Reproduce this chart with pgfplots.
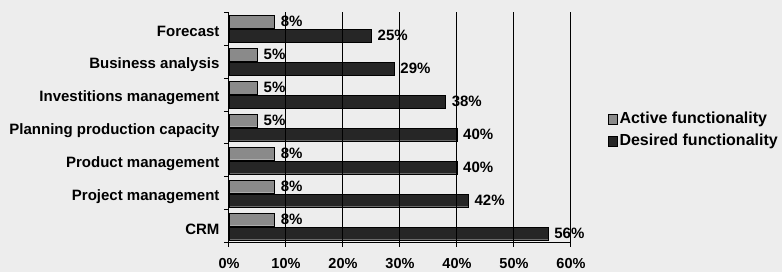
\documentclass[border=0pt]{standalone}
\usepackage{pgfplots}
\pgfplotsset{compat=1.18}
\usepackage{fontspec}
\setmainfont{Liberation Sans}
\definecolor{bg}{HTML}{EDEDED}
\definecolor{activec}{HTML}{8A8A8A}
\definecolor{desiredc}{HTML}{262626}
\begin{document}
\begin{tikzpicture}[font=\fontsize{15pt}{18pt}\selectfont\bfseries]
\fill[bg] (-229pt,-29pt) rectangle (553pt,243pt);
\path[use as bounding box] (-229pt,-29pt) rectangle (553pt,243pt);
\begin{axis}[
  at={(0pt,0pt)}, anchor=south west,
  xbar, width=342pt, height=231pt, scale only axis,
  xmin=0, xmax=60, ymin=-0.5, ymax=6.5,
  axis x line*=bottom, axis y line*=left,
  axis line style={black, line width=1pt},
  axis on top,
  xtick={0,10,...,60},
  xticklabel={\pgfmathprintnumber{\tick}\%},
  xmajorgrids, grid style={black, line width=1pt},
  ytick={0,...,6},
  yticklabels={CRM, Project management, Product management, Planning production capacity, Investitions management, Business analysis, Forecast},
  major y tick style={draw=none},
  minor ytick={-0.5,0.5,...,6.5},
  minor tick length=5pt, major tick length=8pt,
  ytick align=outside,
  xtick align=center,
  tick style={black, line width=1pt},
  /pgf/number format/assume math mode=true,
  xticklabel style={font=\fontsize{14.5pt}{18pt}\selectfont\bfseries, yshift=-8pt},
  yticklabel style={font=\fontsize{15pt}{18pt}\selectfont\bfseries, xshift=2pt, yshift=-3pt},
  bar width=12.5pt,
  nodes near coords={\pgfmathprintnumber{\pgfplotspointmeta}\%},
  nodes near coords style={font=\fontsize{15pt}{18pt}\selectfont\bfseries, inner sep=0pt, xshift=6pt},
  legend style={at={(1.108,0.49)}, anchor=west, draw=none, fill=none, inner sep=0pt,
    font=\fontsize{16pt}{19pt}\selectfont\bfseries, row sep=5pt,
    /tikz/every even column/.append style={column sep=0pt}},
  legend cell align=left,
  legend image code/.code={\fill[#1,draw=black] (0pt,-5pt) rectangle (9pt,5pt);},
]
\addplot[fill=activec, draw=black, bar shift=7pt] coordinates {
 (8,0) (8,1) (8,2) (5,3) (5,4) (5,5) (8,6)};
\addplot[fill=desiredc, draw=black, bar shift=-7pt] coordinates {
 (56,0) (42,1) (40,2) (40,3) (38,4) (29,5) (25,6)};
\legend{Active functionality, Desired functionality}
\end{axis}
\end{tikzpicture}
\end{document}
